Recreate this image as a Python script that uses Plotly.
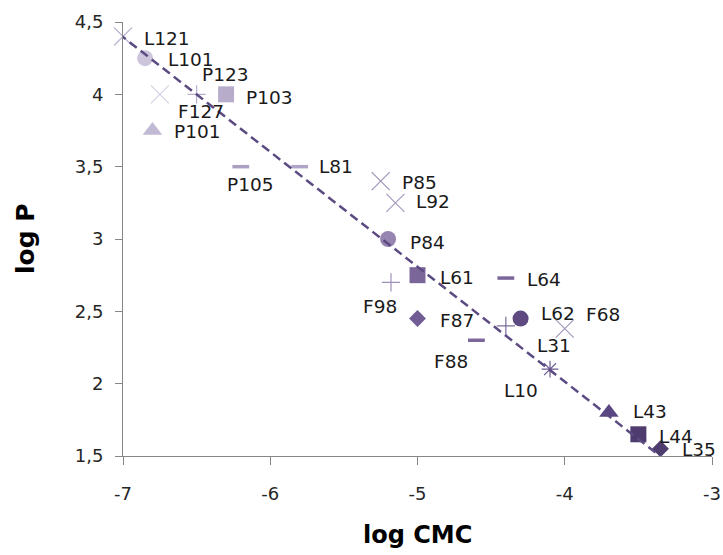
import plotly.graph_objects as go

# ---- data ----
names = ["L121", "L101", "F127", "P123", "P103", "P101", "P105", "L81", "P85", "L92",
         "P84", "L61", "F98", "L64", "F87", "L62", "F68", "L31", "F88", "L10",
         "L43", "L44", "L35"]
log_cmc = [-7.0, -6.85, -6.75, -6.5, -6.3, -6.8, -6.2, -5.8, -5.25, -5.15,
           -5.2, -5.0, -5.18, -4.4, -5.0, -4.3, -4.0, -4.4, -4.6, -4.1,
           -3.7, -3.5, -3.35]
log_p = [4.4, 4.25, 4.0, 4.0, 4.0, 3.75, 3.5, 3.5, 3.4, 3.25,
         3.0, 2.75, 2.7, 2.73, 2.45, 2.45, 2.38, 2.4, 2.3, 2.1,
         1.8, 1.65, 1.55]
trend_x = [-7.03, -3.34]
trend_y = [4.42, 1.49]
x_ticks = [-7, -6, -5, -4, -3]
x_tick_labels = ["-7", "-6", "-5", "-4", "-3"]
y_ticks = [1.5, 2, 2.5, 3, 3.5, 4, 4.5]
y_tick_labels = ["1,5", "2", "2,5", "3", "3,5", "4", "4,5"]

# ---- styles ----
style = {
    # name: (symbol, color, size, line width)
    "L121": ("x-thin-open", "#BDB4D0", 18, 1.2),
    "L101": ("circle", "#CCC5DC", 16, 0),
    "F127": ("x-thin-open", "#D6D0E3", 18, 1.2),
    "P123": ("cross-thin-open", "#B9AECD", 13, 1.2),
    "P103": ("square", "#B7ADCB", 16, 0),
    "P101": ("triangle-up", "#C2B9D4", 17, 0),
    "P105": ("line-ew-open", "#ABA0C2", 12, 3.5),
    "L81": ("line-ew-open", "#B0A5C6", 12, 3.5),
    "P85": ("x-thin-open", "#9F92B8", 18, 1.2),
    "L92": ("x-thin-open", "#A699BE", 18, 1.2),
    "P84": ("circle", "#9685B0", 16, 0),
    "L61": ("square", "#7A6698", 16, 0),
    "F98": ("cross-thin-open", "#9F90B9", 13, 1.2),
    "L64": ("line-ew-open", "#7B6699", 12, 3.5),
    "F87": ("diamond", "#715C93", 13, 0),
    "L62": ("circle", "#5E4A80", 16, 0),
    "F68": ("x-thin-open", "#A397BC", 18, 1.2),
    "L31": ("cross-thin-open", "#7D6C9D", 13, 1.2),
    "F88": ("line-ew-open", "#7B679A", 12, 3.5),
    "L10": ("asterisk-open", "#6E5E92", 14, 1.2),
    "L43": ("triangle-up", "#5A4681", 17, 0),
    "L44": ("square", "#4E3C6E", 16, 0),
    "L35": ("diamond", "#4E3C6E", 13, 0),
}
# label offsets in pixels (dx to text left edge, dy downward)
label_offsets = {
    "L121": (20, 2), "L101": (22, 1), "F127": (17, 17), "P123": (4, -20),
    "P103": (19, 3), "P101": (21, 1), "P105": (-15, 18), "L81": (18, 0),
    "P85": (20, 1), "L92": (20, -1), "P84": (21, 3), "L61": (21, 2),
    "F98": (-29, 24), "L64": (20, 1), "F87": (21, 2), "L62": (19, -5),
    "F68": (20, -14), "L31": (30, 20), "F88": (-43, 21), "L10": (-47, 21),
    "L43": (23, -1), "L44": (20, 2), "L35": (21, 1),
}

FONT = "DejaVu Sans"
AXIS_COLOR = "#868686"

fig = go.Figure()
fig.add_trace(go.Scatter(
    x=log_cmc, y=log_p, mode="markers", cliponaxis=False, showlegend=False,
    marker=dict(
        symbol=[style[n][0] for n in names],
        color=[style[n][1] for n in names],
        size=[style[n][2] for n in names],
        line=dict(width=[style[n][3] for n in names],
                  color=[style[n][1] for n in names]),
        opacity=1,
    ),
    hoverinfo="skip",
))
fig.add_trace(go.Scatter(
    x=trend_x, y=trend_y, mode="lines", cliponaxis=False, showlegend=False,
    line=dict(color="#5C4A82", width=2.5, dash="9px,5px"),
    hoverinfo="skip",
))

annotations = []
for n, xv, yv in zip(names, log_cmc, log_p):
    dx, dy = label_offsets[n]
    annotations.append(dict(
        x=xv, y=yv, xref="x", yref="y", text=n, showarrow=False,
        xanchor="left", yanchor="middle", xshift=dx, yshift=-dy, borderpad=0,
        font=dict(family=FONT, size=18.5, color="#1A1A1A"),
    ))
annotations.append(dict(
    x=0.5, y=0, xref="paper", yref="paper", text="<b>log CMC</b>", showarrow=False,
    xanchor="center", yanchor="middle", yshift=-79,
    font=dict(family=FONT, size=24, color="#000000"),
))
annotations.append(dict(
    x=0, y=0.5, xref="paper", yref="paper", text="<b>log P</b>", showarrow=False,
    xanchor="center", yanchor="middle", xshift=-98, textangle=-90,
    font=dict(family=FONT, size=25, color="#000000"),
))

fig.update_layout(
    width=723, height=555,
    margin=dict(l=123, r=11, t=22, b=99),
    paper_bgcolor="white", plot_bgcolor="white",
    annotations=annotations,
    font=dict(family=FONT),
)
fig.update_xaxes(
    range=[-7, -3], tickvals=x_ticks, ticktext=x_tick_labels,
    showgrid=False, zeroline=False, showline=True, linecolor=AXIS_COLOR, linewidth=1,
    ticks="outside", ticklen=8, tickcolor=AXIS_COLOR, tickwidth=1,
    ticklabelstandoff=13, automargin=False,
    tickfont=dict(family=FONT, size=18, color="#262626"),
)
fig.update_yaxes(
    range=[1.5, 4.5], tickvals=y_ticks, ticktext=y_tick_labels,
    showgrid=False, zeroline=False, showline=True, linecolor=AXIS_COLOR, linewidth=1,
    ticks="outside", ticklen=7, tickcolor=AXIS_COLOR, tickwidth=1,
    ticklabelstandoff=8, automargin=False,
    tickfont=dict(family=FONT, size=18, color="#262626"),
)

fig.write_html(
    "out.html",
    config={"displayModeBar": False},
    post_script="document.body.style.margin='0';document.body.style.overflow='hidden';",
)
